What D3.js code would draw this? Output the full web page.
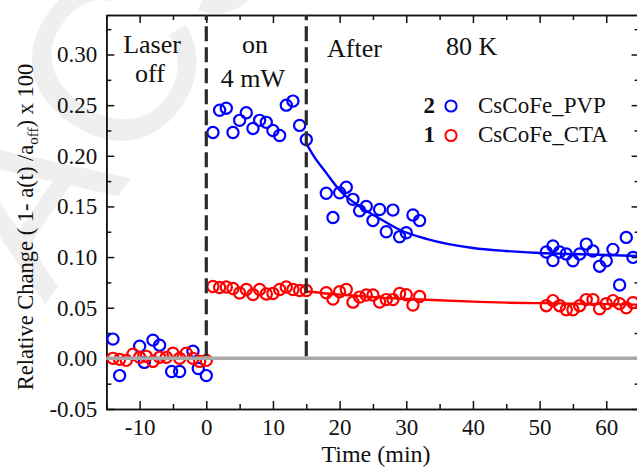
<!DOCTYPE html>
<html>
<head>
<meta charset="utf-8">
<script src="https://cdn.jsdelivr.net/npm/d3@7"></script>
<style>
  html, body { margin: 0; padding: 0; background: #fff; }
  svg { display: block; }
  text { font-family: "Liberation Serif", "Times New Roman", serif; fill: #111; }
</style>
</head>
<body>
<svg id="chart" width="637" height="468"></svg>
<script>
// ---- data (time in minutes, relative change) ----
const preTimePVP = [-14, -13, -10, -9.3, -8, -7, -5.2, -4, -2, -1.2, 0];
const prePVP     = [0.019, -0.017, 0.012, -0.004, 0.018, 0.013, -0.013, -0.013, 0.007, -0.010, -0.017];
const preTimeCTA = [-14, -13, -12, -11, -10, -9, -8, -7, -6, -5, -4, -3, -2, -1, 0];
const preCTA     = [0.000, -0.001, -0.002, 0.004, 0.001, 0.002, -0.003, 0.001, 0.001, 0.005, 0.000, 0.005, 0.000, -0.003, -0.002];

const onTime = [1, 2, 3, 4, 5, 6, 7, 8, 9, 10, 11, 12, 13, 14, 15];
const onPVP  = [0.223, 0.245, 0.247, 0.223, 0.235, 0.2425, 0.227, 0.235, 0.233, 0.225, 0.220, 0.250, 0.254, 0.230, 0.216];
const onCTA  = [0.071, 0.070, 0.0705, 0.069, 0.0645, 0.068, 0.063, 0.068, 0.0635, 0.064, 0.068, 0.0705, 0.068, 0.067, 0.067];

const afterTime = [18, 19, 20, 21, 22, 23, 24, 25, 26, 27, 28, 29, 30, 31, 32];
const afterPVP  = [0.163, 0.139, 0.1635, 0.169, 0.157, 0.1457, 0.150, 0.136, 0.147, 0.125, 0.1464, 0.120, 0.124, 0.1415, 0.136];
const afterCTA  = [0.0648, 0.0585, 0.0658, 0.068, 0.0555, 0.0605, 0.0625, 0.0625, 0.0556, 0.058, 0.058, 0.064, 0.0628, 0.0526, 0.061];

const lateTimePVP = [51, 52, 52, 53, 54, 55, 56, 57, 58, 59, 60, 61, 62, 63, 64];
const latePVP     = [0.105, 0.111, 0.0966, 0.105, 0.103, 0.0964, 0.103, 0.1128, 0.106, 0.091, 0.0964, 0.1076, 0.0724, 0.1194, 0.0997];
const lateTimeCTA = [51, 52, 53, 54, 55, 56, 57, 58, 59, 60, 61, 62, 63, 64];
const lateCTA     = [0.052, 0.057, 0.052, 0.048, 0.048, 0.052, 0.058, 0.058, 0.049, 0.054, 0.057, 0.054, 0.050, 0.055];

// relaxation fits after the laser is switched off
const fitTime = [15, 16, 18, 20, 23, 26, 29, 33, 40, 45, 50, 55, 60, 65];
const fitPVP  = [0.212, 0.201, 0.183, 0.166, 0.150, 0.138, 0.127, 0.118, 0.109, 0.106, 0.104, 0.103, 0.102, 0.101];
const fitCTA  = [0.066, 0.0655, 0.064, 0.063, 0.0615, 0.060, 0.059, 0.0578, 0.056, 0.055, 0.0545, 0.054, 0.0535, 0.053];

const xMajor = [-10, 0, 10, 20, 30, 40, 50, 60];
const xMinor = [-15, -5, 5, 15, 25, 35, 45, 55, 65];
const yMajor = [-0.05, 0.00, 0.05, 0.10, 0.15, 0.20, 0.25, 0.30];
const yMinor = [-0.025, 0.025, 0.075, 0.125, 0.175, 0.225, 0.275, 0.325];
const phaseMarks = [0, 15];

const seriesNames = ["CsCoFe_PVP", "CsCoFe_CTA"];
const seriesIds = ["2", "1"];
const colors = { PVP: "#0000ff", CTA: "#ff0000" };

// ---- layout ----
const svg = d3.select("#chart");
const plotL = 106.3, plotR = 639.6, plotT = 15, plotB = 409;
const x = d3.scaleLinear().domain([-15, 65]).range([plotL, plotR]);
const y = d3.scaleLinear().domain([-0.05, 0.339]).range([plotB, plotT]);

// faint background watermark
svg.append("text")
  .attr("transform", "translate(45,305) rotate(-56)")
  .style("font-family", "'Liberation Sans', Arial, sans-serif")
  .style("font-size", "230px")
  .style("fill", "#efefef")
  .text("ACS");

const minus = s => s.replace("\u2212", "-");

// axes: major + minor ticks, all pointing inward
function axisGroup(axis, tx, ty) {
  const g = svg.append("g").attr("transform", `translate(${tx},${ty})`).call(axis);
  g.selectAll("path.domain").attr("stroke", "#111").attr("stroke-width", 1.6);
  g.selectAll(".tick line").attr("stroke", "#111").attr("stroke-width", 1.5);
  g.selectAll("text").style("font-family", "'Liberation Serif', serif").style("font-size", "23px").attr("fill", "#111");
  return g;
}

axisGroup(d3.axisBottom(x).tickValues(xMajor).tickSizeInner(-8).tickSizeOuter(0).tickPadding(10)
  .tickFormat(d => minus(d3.format("d")(d))), 0, plotB);
axisGroup(d3.axisBottom(x).tickValues(xMinor).tickSizeInner(-5).tickSizeOuter(0).tickFormat(""), 0, plotB);
axisGroup(d3.axisTop(x).tickValues(xMajor).tickSizeInner(-8).tickSizeOuter(0).tickFormat(""), 0, plotT);
axisGroup(d3.axisTop(x).tickValues(xMinor).tickSizeInner(-5).tickSizeOuter(0).tickFormat(""), 0, plotT);

axisGroup(d3.axisLeft(y).tickValues(yMajor).tickSizeInner(-8).tickSizeOuter(0).tickPadding(9)
  .tickFormat(d => minus(d3.format(".2f")(d))), plotL, 0);
axisGroup(d3.axisLeft(y).tickValues(yMinor).tickSizeInner(-5).tickSizeOuter(0).tickFormat(""), plotL, 0);
axisGroup(d3.axisRight(y).tickValues(yMajor).tickSizeInner(-8).tickSizeOuter(0).tickFormat(""), plotR, 0);
axisGroup(d3.axisRight(y).tickValues(yMinor).tickSizeInner(-5).tickSizeOuter(0).tickFormat(""), plotR, 0);

// ---- markers ----
function points(times, vals, color) {
  svg.append("g").selectAll("circle")
    .data(times.map((t, i) => [t, vals[i]]))
    .join("circle")
    .attr("cx", d => x(d[0]))
    .attr("cy", d => y(d[1]))
    .attr("r", 5.6)
    .attr("fill", "none")
    .attr("stroke", color)
    .attr("stroke-width", 2.2);
}
points(preTimePVP, prePVP, colors.PVP);
points(onTime, onPVP, colors.PVP);
points(afterTime, afterPVP, colors.PVP);
points(lateTimePVP, latePVP, colors.PVP);
points(preTimeCTA, preCTA, colors.CTA);
points(onTime, onCTA, colors.CTA);
points(afterTime, afterCTA, colors.CTA);
points(lateTimeCTA, lateCTA, colors.CTA);

// fitted decay curves
const line = d3.line().x(d => x(d[0])).y(d => y(d[1])).curve(d3.curveMonotoneX);
svg.append("path").datum(fitTime.map((t, i) => [t, fitPVP[i]]))
  .attr("d", line).attr("fill", "none").attr("stroke", colors.PVP).attr("stroke-width", 2.4);
svg.append("path").datum(fitTime.map((t, i) => [t, fitCTA[i]]))
  .attr("d", line).attr("fill", "none").attr("stroke", colors.CTA).attr("stroke-width", 2.4);

// baseline at zero
svg.append("line")
  .attr("x1", x(-15)).attr("x2", x(65))
  .attr("y1", y(0)).attr("y2", y(0))
  .attr("stroke", "#a8a8a8").attr("stroke-width", 3.5);

// phase boundaries (laser on / laser off)
svg.append("g").selectAll("line")
  .data(phaseMarks)
  .join("line")
  .attr("x1", d => x(d)).attr("x2", d => x(d))
  .attr("y1", y(0) - 2).attr("y2", plotT)
  .attr("stroke", "#2a2a2a").attr("stroke-width", 3.2)
  .attr("stroke-dasharray", "15,6");

// ---- annotations ----
const notes = [
  { t: "Laser", x: 152, y: 53, a: "middle" },
  { t: "off", x: 150, y: 82, a: "middle" },
  { t: "on", x: 255, y: 53, a: "middle" },
  { t: "4 mW", x: 253, y: 87, a: "middle" },
  { t: "After", x: 327, y: 57, a: "start" },
  { t: "80 K", x: 446, y: 55, a: "start" }
];
svg.append("g").selectAll("text")
  .data(notes)
  .join("text")
  .attr("x", d => d.x).attr("y", d => d.y)
  .attr("text-anchor", d => d.a)
  .style("font-size", "26px")
  .text(d => d.t);

// legend
const legend = svg.append("g");
const legendColors = [colors.PVP, colors.CTA];
seriesNames.forEach((name, i) => {
  const cy = 106 + i * 29.5;
  legend.append("text").attr("x", 435).attr("y", cy + 6.5).attr("text-anchor", "end")
    .style("font-size", "23px").style("font-weight", "bold").text(seriesIds[i]);
  legend.append("circle").attr("cx", 451).attr("cy", cy).attr("r", 5.6)
    .attr("fill", "none").attr("stroke", legendColors[i]).attr("stroke-width", 2);
  legend.append("text").attr("x", 478).attr("y", cy + 6.5)
    .style("font-size", "23px").text(name);
});

// axis titles
svg.append("text")
  .attr("x", 376).attr("y", 462)
  .attr("text-anchor", "middle")
  .style("font-size", "24px")
  .text("Time (min)");

const yt = svg.append("text")
  .attr("transform", "translate(33,227) rotate(-90)")
  .attr("text-anchor", "middle")
  .style("font-size", "22.5px");
yt.append("tspan").text("Relative Change ( 1- a(t) /a");
yt.append("tspan").attr("dy", 5).style("font-size", "15px").text("off");
yt.append("tspan").attr("dy", -5).text(") x 100");
</script>
</body>
</html>
